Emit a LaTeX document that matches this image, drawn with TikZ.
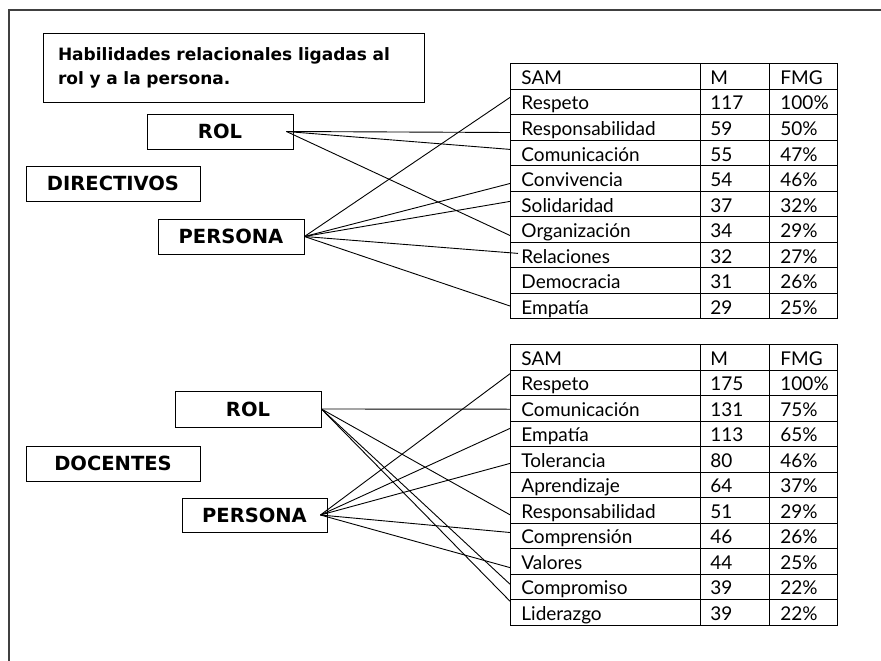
\documentclass[tikz,border=0pt]{standalone}
\usepackage{fontspec}
\setmainfont{Lato}
\newfontfamily\labelfont{DejaVu Sans}
\usepackage{tikz}
\definecolor{framecol}{RGB}{64,64,64}
\tikzset{every picture/.style={x=1pt,y=-1pt}}
\tikzset{box/.style={draw,rectangle,line width=0.9pt,inner sep=0pt,font=\labelfont\fontsize{19.5}{21}\selectfont\bfseries}}
\tikzset{cell/.style={draw,rectangle,line width=0.9pt,anchor=north west,inner sep=0pt,minimum height=25.5,text height=16pt,text depth=0pt,align=left,font=\fontsize{19}{21}\selectfont}}
\tikzset{samcol/.style={cell,inner xsep=11pt,text width=168pt}}
\tikzset{mcol/.style={cell,inner xsep=10pt,text width=49pt}}
\tikzset{fcol/.style={cell,inner xsep=11pt,text width=46pt}}
\tikzset{edge/.style={line width=0.9pt}}

\begin{document}
\begin{tikzpicture}
\useasboundingbox (0,0) rectangle (881,661);
\draw [framecol,line width=2pt] (9,661) -- (9,10) -- (881,10);

\node [box,minimum width=381,minimum height=69,text width=351pt,align=left,text height=13pt,font=\labelfont\fontsize{17}{24}\selectfont\bfseries] (title) at (233.5,67.5) {Habilidades relacionales ligadas al\\rol y a la persona.};

\node [box,minimum width=146,minimum height=35] (rol1) at (220,131.5) {ROL};
\node [box,minimum width=174,minimum height=35] (dir) at (113,183.5) {DIRECTIVOS};
\node [box,minimum width=146,minimum height=35] (per1) at (231,236.5) {PERSONA};

\node [box,minimum width=146,minimum height=36] (rol2) at (248,409) {ROL};
\node [box,minimum width=174,minimum height=35] (doc) at (113,463.5) {DOCENTES};
\node [box,minimum width=145,minimum height=34] (per2) at (254.5,515) {PERSONA};

\node [samcol] (a0) at (510,63.3) {SAM}; \node [mcol] (am0) at (700,63.3) {M}; \node [fcol] (af0) at (769,63.3) {FMG};
\node [samcol] (a1) at (510,88.8) {Respeto}; \node [mcol] (am1) at (700,88.8) {117}; \node [fcol] (af1) at (769,88.8) {100\%};
\node [samcol] (a2) at (510,114.3) {Responsabilidad}; \node [mcol] (am2) at (700,114.3) {59}; \node [fcol] (af2) at (769,114.3) {50\%};
\node [samcol] (a3) at (510,139.8) {Comunicación}; \node [mcol] (am3) at (700,139.8) {55}; \node [fcol] (af3) at (769,139.8) {47\%};
\node [samcol] (a4) at (510,165.3) {Convivencia}; \node [mcol] (am4) at (700,165.3) {54}; \node [fcol] (af4) at (769,165.3) {46\%};
\node [samcol] (a5) at (510,190.8) {Solidaridad}; \node [mcol] (am5) at (700,190.8) {37}; \node [fcol] (af5) at (769,190.8) {32\%};
\node [samcol] (a6) at (510,216.3) {Organización}; \node [mcol] (am6) at (700,216.3) {34}; \node [fcol] (af6) at (769,216.3) {29\%};
\node [samcol] (a7) at (510,241.8) {Relaciones}; \node [mcol] (am7) at (700,241.8) {32}; \node [fcol] (af7) at (769,241.8) {27\%};
\node [samcol] (a8) at (510,267.3) {Democracia}; \node [mcol] (am8) at (700,267.3) {31}; \node [fcol] (af8) at (769,267.3) {26\%};
\node [samcol] (a9) at (510,292.8) {Empatía}; \node [mcol] (am9) at (700,292.8) {29}; \node [fcol] (af9) at (769,292.8) {25\%};

\node [samcol] (b0) at (510,344) {SAM}; \node [mcol] (bm0) at (700,344) {M}; \node [fcol] (bf0) at (769,344) {FMG};
\node [samcol] (b1) at (510,369.5) {Respeto}; \node [mcol] (bm1) at (700,369.5) {175}; \node [fcol] (bf1) at (769,369.5) {100\%};
\node [samcol] (b2) at (510,395) {Comunicación}; \node [mcol] (bm2) at (700,395) {131}; \node [fcol] (bf2) at (769,395) {75\%};
\node [samcol] (b3) at (510,420.5) {Empatía}; \node [mcol] (bm3) at (700,420.5) {113}; \node [fcol] (bf3) at (769,420.5) {65\%};
\node [samcol] (b4) at (510,446) {Tolerancia}; \node [mcol] (bm4) at (700,446) {80}; \node [fcol] (bf4) at (769,446) {46\%};
\node [samcol] (b5) at (510,471.5) {Aprendizaje}; \node [mcol] (bm5) at (700,471.5) {64}; \node [fcol] (bf5) at (769,471.5) {37\%};
\node [samcol] (b6) at (510,497) {Responsabilidad}; \node [mcol] (bm6) at (700,497) {51}; \node [fcol] (bf6) at (769,497) {29\%};
\node [samcol] (b7) at (510,522.5) {Comprensión}; \node [mcol] (bm7) at (700,522.5) {46}; \node [fcol] (bf7) at (769,522.5) {26\%};
\node [samcol] (b8) at (510,548) {Valores}; \node [mcol] (bm8) at (700,548) {44}; \node [fcol] (bf8) at (769,548) {25\%};
\node [samcol] (b9) at (510,573.5) {Compromiso}; \node [mcol] (bm9) at (700,573.5) {39}; \node [fcol] (bf9) at (769,573.5) {22\%};
\node [samcol] (b10) at (510,599) {Liderazgo}; \node [mcol] (bm10) at (700,599) {39}; \node [fcol] (bf10) at (769,599) {22\%};


\draw [edge] ([xshift=-7pt]rol1.east) -- ([yshift=-5pt]a2.west);
\draw [edge] ([xshift=-7pt]rol1.east) -- ([yshift=3.6pt]a3.west);
\draw [edge] ([xshift=-7pt]rol1.east) -- ([yshift=-6pt]a6.west);

\draw [edge] (per1.east) -- ([yshift=4.6pt]a1.west);
\draw [edge] (per1.east) -- ([yshift=-5pt]a4.west);
\draw [edge] (per1.east) -- ([yshift=2.6pt]a5.west);
\draw [edge] (per1.east) -- ([xshift=8pt,yshift=1.6pt]a7.west);
\draw [edge] (per1.east) -- (a9.west);


\draw [edge] (rol2.east) -- ([yshift=-1pt]b2.west);
\draw [edge] (rol2.east) -- ([yshift=-4.6pt]b6.west);
\draw [edge] (rol2.east) -- ([yshift=2.5pt]b9.west);
\draw [edge] (rol2.east) -- ([yshift=11pt]b10.west);

\draw [edge] ([xshift=-7pt]per2.east) -- ([yshift=9pt]b1.west);
\draw [edge] ([xshift=-7pt]per2.east) -- ([yshift=5.3pt]b3.west);
\draw [edge] ([xshift=-7pt]per2.east) -- ([yshift=-4.2pt]b4.west);
\draw [edge] ([xshift=-7pt]per2.east) -- ([yshift=3.2pt]b7.west);
\draw [edge] ([xshift=-7pt]per2.east) -- ([yshift=-6.4pt]b8.west);
\end{tikzpicture}
\end{document}
